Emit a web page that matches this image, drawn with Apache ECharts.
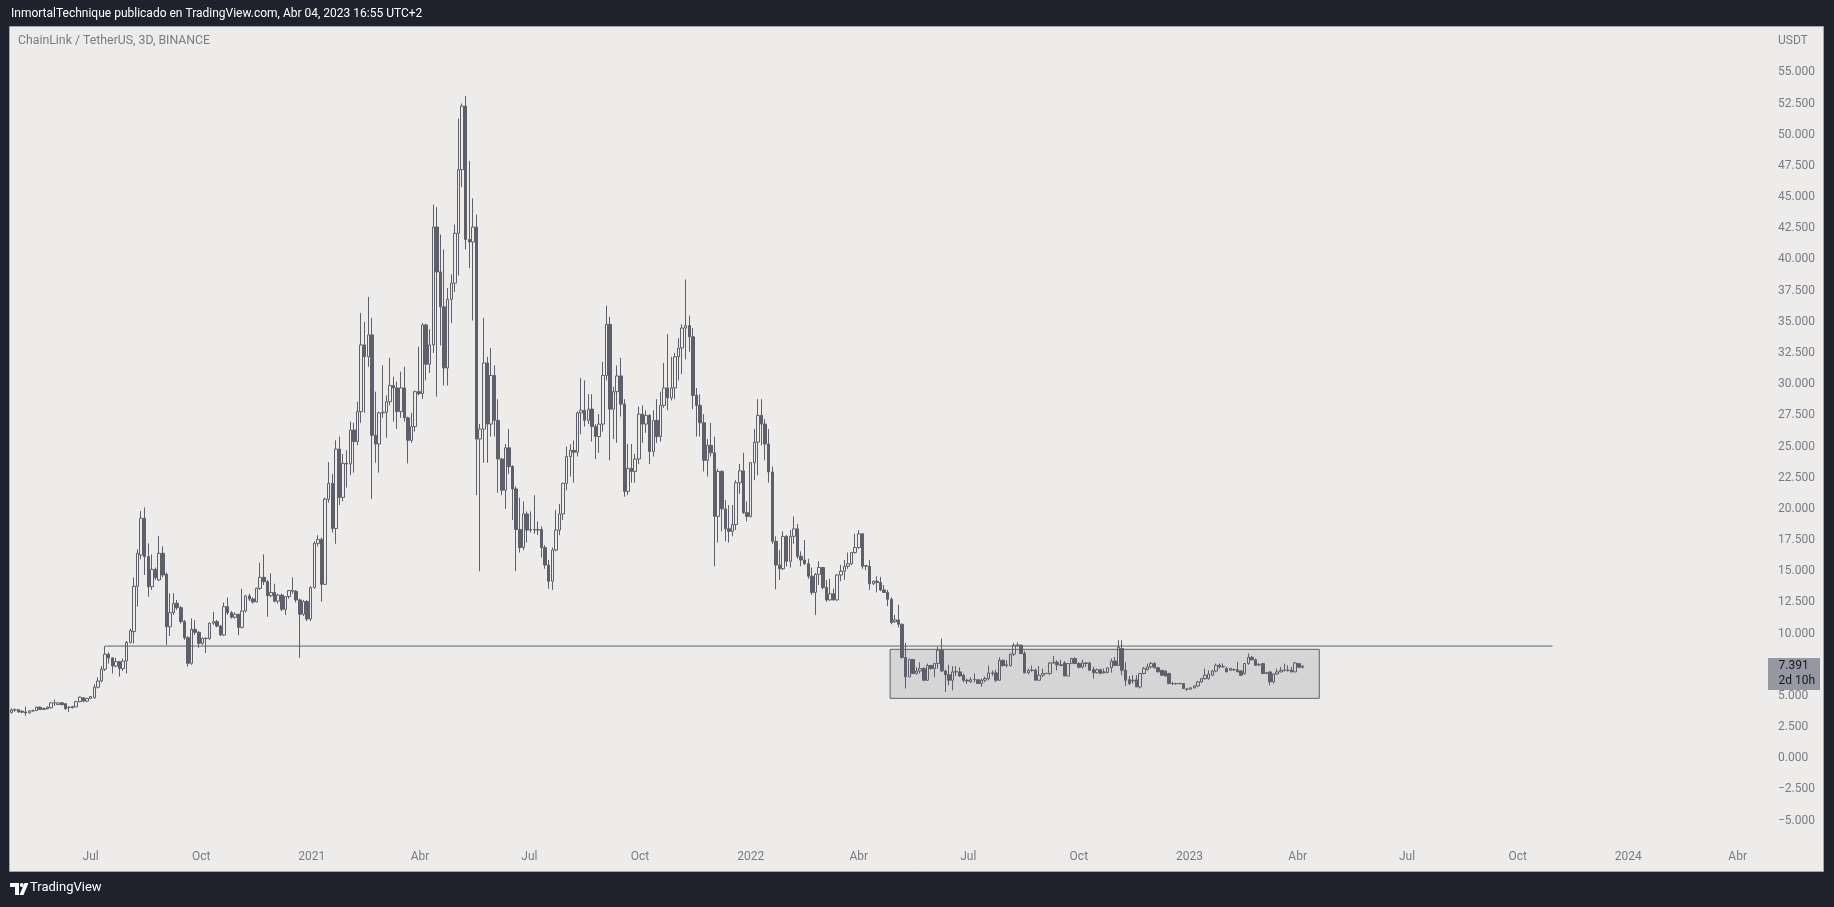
<!DOCTYPE html>
<html>
<head>
<meta charset="utf-8">
<script src="https://cdn.jsdelivr.net/npm/echarts@6/dist/echarts.min.js"></script>
<style>
html,body{margin:0;padding:0;background:#1f222c;}
#chart{width:1834px;height:907px;}
</style>
</head>
<body>
<div id="chart"></div>
<script>
// ---------------- texts ----------------
const headerText = 'InmortalTechnique publicado en TradingView.com, Abr 04, 2023 16:55 UTC+2';
const symbolTitle = 'ChainLink / TetherUS, 3D, BINANCE';
const priceUnit = 'USDT';
const countdownText = '2d 10h';
const brandText = 'TradingView';

// ---------------- data ----------------
const firstBarDate = '2020-04-26';   // open time of the first 3D bar
const barDays = 3;

// [open, close, low, high]
const ohlc2020 = [
[3.68,3.88,3.6,4.0],[3.88,3.9,3.72,4.0],[3.9,3.72,3.65,3.95],[3.78,3.7,3.62,3.85],[3.72,3.64,3.4,4.15],
[3.64,3.8,3.6,3.85],[3.8,3.83,3.75,3.9],[3.83,4.1,3.8,4.15],[4.1,3.92,3.88,4.15],[3.92,4.0,3.88,4.05],
[3.98,4.1,3.92,4.15],[4.05,4.45,4.0,4.5],[4.45,4.45,4.2,4.7],[4.32,4.45,4.3,4.5],[4.45,4.3,4.25,4.5],
[4.38,3.98,3.9,4.42],[4.08,4.1,3.72,4.15],[4.05,4.15,4.0,4.2],[4.12,4.55,4.1,4.6],[4.55,4.9,4.5,4.95],
[4.85,4.58,4.5,4.9],[4.58,4.8,4.5,4.85],[4.8,4.95,4.75,5.0],[4.85,5.7,4.8,5.95],[5.7,6.2,5.6,6.5],
[6.2,7.15,6.1,7.4],[7.15,8.35,7.0,9.0],[8.35,8.05,7.6,8.5],[8.05,7.4,6.8,8.1],[7.4,7.75,7.3,8.05],
[7.75,7.2,6.55,7.8],[7.2,7.8,7.0,8.0],[7.8,9.3,6.8,9.4],[9.3,10.23,9.2,10.4],[10.16,13.79,9.2,14.5],
[13.79,16.44,12.16,16.76],[16.3,19.25,15.96,19.83],[19.25,16.17,14.7,20.12],[16.17,13.76,12.96,17.24],[13.76,15.15,13.5,16.35],
[15.15,14.48,14.3,15.3],[14.3,16.44,14.22,17.83],[16.44,14.7,14.5,17.0],[14.75,10.55,9.09,14.9],[10.55,11.68,9.81,13.23],
[11.68,12.43,11.5,13.23],[12.43,12.08,11.9,12.7],[12.08,10.96,10.8,12.2],[10.96,9.67,9.5,11.1],[9.67,7.62,7.35,9.8],
[7.62,10.34,7.49,11.22],[10.34,10.1,9.9,11.08],[10.1,9.22,8.87,10.2],[9.22,9.62,9.1,9.7],[9.62,9.6,8.44,9.7],
[9.6,10.83,9.5,10.9],[10.83,10.96,10.7,11.74],[10.96,10.6,10.5,11.1],[10.6,9.89,9.8,10.7],[9.89,12.16,9.8,12.49],
[12.16,11.68,11.5,12.89],[11.68,11.31,11.2,11.8],[11.31,11.55,11.2,11.7],[11.55,10.5,9.89,11.6],[10.5,11.81,10.4,13.58],
[11.81,13.02,11.7,13.1],[13.02,12.78,12.6,13.2],[12.78,12.54,12.4,12.9],[12.54,13.63,12.5,13.7],[13.63,14.51,13.5,15.69],
[14.51,14.16,13.9,16.35],[14.16,13.04,11.35,14.3],[13.04,13.3,12.9,14.83],[13.3,12.6,12.5,14.0],[12.6,13.09,12.4,13.2],
[13.09,11.95,11.8,13.2],[11.95,12.97,11.49,13.0],[12.97,13.45,12.8,13.5],[13.45,13.4,13.2,14.51],[13.4,12.7,12.5,13.5],
[12.7,11.55,8.07,12.8],[11.55,12.57,11.4,12.7],[12.57,11.17,11.0,12.7],[11.17,13.69,11.0,13.8]
];
const ohlc2021 = [
[13.69,17.24,13.6,17.4],[17.24,17.56,17.0,17.9],[17.56,13.95,12.57,17.7],[13.95,20.77,13.9,20.9],[20.77,22.05,20.5,23.74],
[22.05,18.43,18.1,22.8],[18.43,24.8,17.2,25.5],[24.8,20.92,20.3,25.8],[20.92,23.65,20.6,24.4],[23.65,23.6,21.7,24.7],
[23.6,26.32,22.7,27.0],[26.32,25.4,22.9,26.9],[25.4,27.8,25.1,28.6],[27.8,33.15,26.9,35.7],[33.15,32.2,27.7,35.0],
[32.2,33.95,31.4,37.0],[33.95,25.9,20.8,35.3],[25.9,25.2,23.7,29.4],[25.2,27.7,22.9,27.8],[27.7,27.75,27.3,31.5],
[27.75,28.6,25.7,29.1],[28.6,29.9,28.3,32.1],[29.9,29.7,27.0,30.6],[29.7,27.8,26.4,30.2],[27.8,29.7,27.3,31.0],
[29.7,27.3,27.0,31.4],[27.3,25.5,23.65,27.4],[25.5,26.6,25.3,27.7],[26.6,29.4,26.2,29.5],[29.4,29.25,29.1,33.0],
[29.25,34.75,28.8,34.9],[34.75,31.6,30.3,34.85],[31.6,33.15,30.9,34.4],[33.15,42.6,32.5,44.4],[42.6,39.0,29.0,44.2],
[39.0,36.2,33.1,42.0],[36.2,31.3,29.9,40.8],[31.3,36.8,29.9,37.7],[36.8,38.1,34.9,38.8],[38.1,42.1,37.4,42.8],
[42.1,47.2,38.7,51.3],[47.2,52.3,45.8,52.5],[52.3,41.6,40.8,53.1],[41.6,41.4,39.3,47.9],[41.4,42.6,35.1,44.9],
[42.6,25.6,21.1,43.6],[25.6,26.4,15.0,26.8],[26.4,31.7,23.7,35.3],[31.7,26.8,23.7,32.2],[26.8,30.7,25.8,32.9],
[30.7,27.1,25.8,31.5],[27.1,24.0,21.3,28.8],[24.0,21.5,21.1,24.1],[21.5,24.9,19.99,25.2],[24.9,23.4,22.8,26.4],
[23.4,21.6,19.1,23.5],[21.6,18.35,15.0,21.8],[18.35,16.9,16.5,20.9],[16.9,19.6,16.7,20.6],[19.6,18.3,17.3,19.8],
[18.3,18.35,18.1,19.8],[18.35,18.3,18.0,21.1],[18.3,18.35,17.9,19.0],[18.35,16.9,16.1,18.6],[16.9,15.5,15.2,17.1],
[15.5,14.2,13.6,15.9],[14.2,16.7,13.5,16.9],[16.7,18.3,16.6,19.9],[18.3,19.6,17.9,20.4],[19.6,22.05,19.1,22.1],
[22.05,24.2,21.5,25.0],[24.2,24.7,22.6,25.2],[24.7,24.55,22.1,25.5],[24.55,27.7,24.2,27.8],[27.7,27.9,26.0,30.5],
[27.9,27.1,26.6,30.3],[27.1,28.0,26.8,29.2],[28.0,26.6,25.4,29.2],[26.6,25.8,24.0,26.8],[25.8,26.8,24.5,27.6],
[26.8,30.7,26.2,31.8],[30.7,34.8,30.3,36.3],[34.8,28.0,23.9,35.4],[28.0,29.4,25.6,29.8],[29.4,30.66,25.3,31.5],
[30.66,28.4,27.4,32.1],[28.4,21.4,20.97,28.8],[21.4,23.25,21.1,25.2],[23.25,23.0,22.1,25.2],[23.0,24.0,22.1,24.4],
[24.0,27.6,23.6,28.2],[27.6,26.8,25.3,28.3],[26.8,27.5,26.1,27.9],[27.5,24.6,23.6,27.6],[24.6,27.1,24.2,27.9],
[27.1,25.8,25.3,28.8],[25.8,28.3,25.4,29.4],[28.3,29.7,28.1,31.7],[29.7,28.9,27.9,34.0],[28.9,29.7,28.7,32.2],
[29.7,32.2,28.8,32.5],[32.2,32.9,30.3,33.7],[32.9,34.5,30.8,34.8],[34.5,34.7,32.0,38.4],[34.7,33.8,32.6,35.5],
[33.8,29.1,28.0,34.5],[29.1,28.3,25.8,29.7],[28.3,26.9,25.8,29.2],[26.9,23.9,23.0,27.6],[23.9,25.1,22.6,25.6],
[25.1,24.5,24.2,26.9],[24.5,19.4,15.4,25.8],[19.4,23.0,17.3,23.2],[23.0,20.0,18.2,23.1],[20.0,18.4,17.4,20.7],
[18.4,18.2,17.3,20.3],[18.2,18.75,17.8,20.3],[18.75,22.1,18.3,22.3],[22.1,23.05,21.2,23.6],[23.05,19.7,19.6,24.5],
[19.7,19.4,19.0,20.6]
];
const ohlc2022 = [
[19.4,23.7,19.3,23.75],[23.7,25.35,22.3,26.4],[25.35,27.5,22.7,28.8],[27.5,26.8,25.1,28.8],[26.8,25.2,23.9,27.2],
[25.2,22.96,22.1,26.4],[22.96,17.4,17.2,23.4],[17.4,15.5,13.55,17.8],[15.5,15.2,14.3,16.7],[15.2,17.8,15.1,18.2],
[17.8,15.8,15.4,17.9],[15.8,17.8,15.3,18.3],[17.8,18.4,17.2,19.4],[18.4,16.2,16.0,18.8],[16.2,15.9,15.4,16.6],
[15.9,15.6,15.5,17.5],[15.6,14.6,14.4,16.0],[14.6,13.3,13.1,15.3],[13.3,14.75,11.5,14.85],[14.75,15.3,13.9,15.8],
[15.3,13.7,13.55,15.35],[13.7,12.7,12.55,14.3],[12.7,13.2,12.65,14.4],[13.2,12.7,12.65,13.6],[12.7,14.7,12.65,14.75],
[14.7,15.0,14.2,15.5],[15.0,15.4,14.3,15.9],[15.4,15.6,15.2,16.5],[15.6,16.5,15.5,16.55],[16.5,16.9,16.4,18.0],
[16.9,18.0,16.8,18.3],[18.0,15.4,15.2,18.05],[15.4,15.45,15.1,15.5],[15.4,14.0,13.5,15.9],[14.0,14.2,13.9,14.25],
[14.2,14.1,13.3,14.6],[14.1,13.5,13.4,14.55],[13.5,13.3,13.25,13.9],[13.3,12.75,12.2,13.5],[12.75,10.9,10.75,12.9],
[10.95,11.1,10.85,11.5],[11.1,10.75,10.5,12.3],[10.75,8.08,8.0,10.8],[8.08,6.53,5.59,9.26],[6.53,7.92,6.5,8.0],
[7.92,6.8,6.75,7.95],[6.8,7.0,6.7,7.3],[7.0,7.2,6.8,7.7],[7.2,6.26,6.2,7.3],[6.26,7.44,6.2,7.6],
[7.44,7.2,7.1,7.5],[7.2,7.6,6.5,7.65],[7.6,8.67,7.2,8.94],[8.67,7.0,6.95,9.6],[7.0,6.7,5.32,7.1],
[6.7,6.26,5.86,7.5],[6.26,6.93,5.45,7.4],[6.93,6.95,6.6,7.4],[6.93,6.6,6.55,7.3],[6.66,6.26,6.1,6.8],
[6.26,6.2,5.95,6.4],[6.13,6.3,6.05,6.5],[6.3,6.32,6.1,6.8],[6.3,6.0,5.95,6.35],[6.0,6.26,5.75,6.4],
[6.26,6.4,6.1,6.55],[6.4,6.85,6.26,7.44],[6.85,6.8,6.6,7.04],[6.85,6.26,6.13,7.1],[6.26,7.86,6.26,8.1],
[7.86,7.44,7.35,7.92],[7.44,7.5,7.3,7.86],[7.44,8.35,7.35,8.4],[8.35,9.07,8.2,9.26],[9.07,9.1,8.95,9.3],
[9.07,8.4,8.35,9.13],[8.4,6.85,6.85,8.6],[6.85,7.04,6.75,7.2],[7.04,7.07,6.95,7.44],[7.07,6.26,6.26,7.2],
[6.26,6.66,6.26,7.4],[6.66,6.8,6.5,7.2],[6.8,6.82,6.75,6.85],[6.8,7.65,6.66,7.72],[7.65,7.7,7.6,8.2],
[7.7,7.5,7.05,7.86],[7.5,7.45,7.4,7.9],[7.65,6.6,6.6,7.8],[6.6,7.6,6.6,7.6],[7.6,8.0,7.55,8.05],
[8.0,7.6,7.55,8.1],[7.6,7.3,7.2,7.7],[7.33,7.65,7.2,7.9],[7.65,7.6,7.33,7.73],[7.65,7.06,7.06,7.73],
[7.1,6.86,6.4,7.33],[6.86,7.1,6.8,7.2],[7.1,6.8,6.75,7.2],[6.86,6.93,6.8,7.2],[6.86,7.26,6.86,7.26],
[7.26,7.8,6.86,8.0],[7.8,7.45,7.4,8.13],[7.45,8.9,7.4,9.47],[8.8,7.06,6.66,9.47],[7.06,6.26,5.8,7.7],
[6.3,6.0,5.86,6.6],[6.2,6.26,5.99,6.66],[6.3,5.72,5.72,6.66],[5.72,6.8,5.59,6.8],[6.8,7.2,6.73,7.33],
[7.1,7.33,7.06,7.6],[7.33,7.6,7.2,7.73],[7.6,7.26,7.2,7.73],[7.26,6.93,6.9,7.33],[7.06,6.66,6.6,7.06],
[7.0,6.6,6.55,7.06],[6.8,5.99,5.95,6.86],[6.0,6.0,5.86,6.13],[5.99,5.99,5.9,6.05],[5.99,5.99,5.92,6.05],
[6.0,5.6,5.55,6.0],[5.55,5.55,5.4,5.6]
];
const ohlc2023 = [
[5.55,5.65,5.5,5.7],[5.65,5.8,5.6,5.85],[5.8,6.13,5.75,6.2],[6.13,6.39,6.05,6.45],[6.39,6.66,6.3,7.2],
[6.39,6.76,6.3,7.06],[6.66,7.0,6.6,7.1],[7.0,7.46,6.9,7.6],[7.46,7.33,7.2,7.6],[7.33,7.35,7.3,7.6],
[7.2,6.93,6.9,7.33],[7.06,7.2,7.0,7.26],[7.1,7.12,7.0,7.2],[7.1,6.93,6.9,7.73],[7.0,6.66,6.6,7.06],
[6.8,7.6,6.7,7.65],[7.6,8.1,7.5,8.4],[8.1,7.9,7.85,8.2],[7.9,7.46,7.4,8.0],[7.5,7.52,7.4,7.65],
[7.6,6.8,6.75,7.6],[6.8,6.86,6.75,6.93],[6.93,6.13,5.86,6.95],[6.13,6.76,6.0,6.8],[6.76,6.93,6.7,7.2],
[6.93,7.06,6.9,7.33],[7.06,7.08,6.95,7.6],[7.06,7.06,6.95,7.46],[7.06,6.93,6.9,7.33],[6.93,7.65,6.9,7.73],
[7.6,7.3,7.25,7.65],[7.3,7.391,7.2,7.45]
];

// price scale ticks
const priceTicks = [-5,-2.5,0,2.5,5,7.5,10,12.5,15,17.5,20,22.5,25,27.5,30,32.5,35,37.5,40,42.5,45,47.5,50,52.5,55];
// time scale ticks
const timeTickDates = ['2020-07-01','2020-10-01','2021-01-01','2021-04-01','2021-07-01','2021-10-01','2022-01-01','2022-04-01',
  '2022-07-01','2022-10-01','2023-01-01','2023-04-01','2023-07-01','2023-10-01','2024-01-01','2024-04-01'];
const timeTickLabels = ['Jul','Oct','2021','Abr','Jul','Oct','2022','Abr','Jul','Oct','2023','Abr','Jul','Oct','2024','Abr'];

// drawings
const rangeBox = { from: '2022-04-27', to: '2023-04-19', top: 8.74, bottom: 4.81 };
const levelLine = { from: '2020-07-13', to: '2023-10-30', price: 9.0 };

// visible ranges
const viewStart = '2020-04-24T22:00:00Z';
const viewDays = 1464;
const priceMin = -6.71, priceMax = 58.64;

// ---------------- build ----------------
const DAY = 86400000;
const t = s => Date.parse(s.length === 10 ? s + 'T00:00:00Z' : s);
const allBars = ohlc2020.concat(ohlc2021, ohlc2022, ohlc2023);
const t0 = t(firstBarDate);
const candleData = allBars.map((b, i) => [t0 + i * barDays * DAY, b[0], b[1], b[2], b[3]]);
const tickTimes = timeTickDates.map(t);
const lastClose = allBars[allBars.length - 1][1];

const xMin = t(viewStart);
const xMax = xMin + viewDays * DAY;

const CANDLE = '#5d606b';
const AXIS_TXT = '#787b86';
const FONT = 'Roboto, "Noto Sans", sans-serif';

const chart = echarts.init(document.getElementById('chart'), null, { renderer: 'canvas' });

chart.setOption({
  backgroundColor: '#1f222c',
  animation: false,
  grid: { left: 10, right: 64, top: 27, bottom: 65 },
  xAxis: {
    type: 'value', min: xMin, max: xMax,
    splitLine: { show: false }, axisLine: { show: false }, axisTick: { show: false },
    axisLabel: {
      customValues: tickTimes,
      formatter: v => { const k = tickTimes.indexOf(v); return k >= 0 ? timeTickLabels[k] : ''; },
      color: AXIS_TXT, fontSize: 12, fontFamily: FONT, margin: 9
    }
  },
  yAxis: {
    type: 'value', position: 'right', min: priceMin, max: priceMax,
    splitLine: { show: false }, axisLine: { show: false }, axisTick: { show: false },
    axisLabel: {
      customValues: priceTicks,
      formatter: v => (v < 0 ? '\u2212' : '') + Math.abs(v).toFixed(3),
      color: AXIS_TXT, fontSize: 12, fontFamily: FONT, margin: 8
    }
  },
  series: [
    {
      type: 'candlestick',
      data: candleData,
      encode: { x: 0, y: [1, 2, 3, 4] },
      barWidth: 3,
      clip: true,
      silent: true,
      itemStyle: {
        color: 'rgba(0,0,0,0)', color0: CANDLE,
        borderColor: CANDLE, borderColor0: CANDLE, borderColorDoji: CANDLE,
        borderWidth: 1
      },
      markArea: {
        silent: true,
        label: { show: false },
        itemStyle: { color: 'rgba(120,123,134,0.2)', borderColor: CANDLE, borderWidth: 1 },
        data: [[
          { xAxis: t(rangeBox.from), yAxis: rangeBox.top },
          { xAxis: t(rangeBox.to), yAxis: rangeBox.bottom }
        ]]
      },
      z: 3
    },
    {
      type: 'line',
      data: [[t(levelLine.from), levelLine.price], [t(levelLine.to), levelLine.price]],
      symbol: 'none', silent: true,
      lineStyle: { color: CANDLE, width: 1 },
      z: 4
    }
  ]
});

// overlay graphics (panel, header, price tag)
const yLast = Math.round(chart.convertToPixel({ yAxisIndex: 0 }, lastClose));
chart.setOption({
  graphic: [
    { type: 'rect', z: -10, silent: true, shape: { x: 9.5, y: 26.5, width: 1814, height: 845 },
      style: { fill: '#edecea', stroke: '#a3a6ae', lineWidth: 1 } },
    { type: 'text', z: 10, left: 11, top: 8, silent: true,
      style: { text: headerText, fill: '#ffffff', font: '12px ' + FONT } },
    { type: 'text', z: 10, left: 18, top: 35, silent: true,
      style: { text: symbolTitle, fill: AXIS_TXT, font: '12.3px ' + FONT } },
    { type: 'text', z: 10, left: 1778, top: 35, silent: true,
      style: { text: priceUnit, fill: AXIS_TXT, font: '12px ' + FONT } },
    { type: 'rect', z: 10, silent: true, shape: { x: 1768, y: yLast - 8, width: 52, height: 32 },
      style: { fill: '#9598a1' } },
    { type: 'text', z: 11, silent: true, x: 1778.5, y: yLast - 7,
      style: { text: lastClose.toFixed(3) + '\n' + countdownText, fill: '#131722', font: '12px ' + FONT, lineHeight: 14.5 } },
    // logo
    { type: 'polygon', z: 10, silent: true,
      shape: { points: [[10, 883], [19, 883], [19, 895], [15, 895], [15, 887], [10, 887]] }, style: { fill: '#ffffff' } },
    { type: 'circle', z: 10, silent: true, shape: { cx: 21.8, cy: 885, r: 1.9 }, style: { fill: '#ffffff' } },
    { type: 'polygon', z: 10, silent: true,
      shape: { points: [[24.5, 883], [28.5, 883], [23.5, 895], [19.5, 895]] }, style: { fill: '#ffffff' } },
    { type: 'text', z: 10, left: 30, top: 881, silent: true,
      style: { text: brandText, fill: '#ffffff', font: '13px ' + FONT } }
  ]
});
</script>
</body>
</html>
